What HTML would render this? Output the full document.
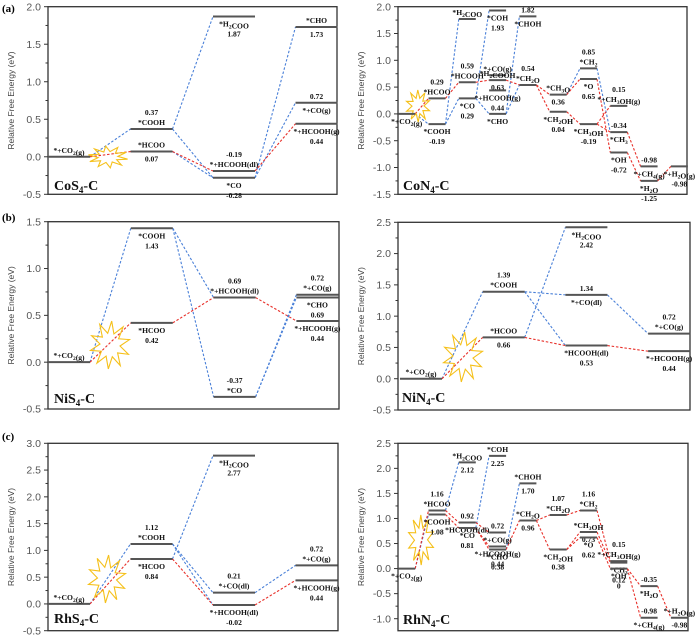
<!DOCTYPE html>
<html><head><meta charset="utf-8"><style>
html,body{margin:0;padding:0;background:#fff;}
svg{display:block;font-family:"Liberation Serif",serif;}
.tick{font-family:"Liberation Sans",sans-serif;font-size:10.5px;fill:#555;}
.lbl{font-size:7.6px;font-weight:bold;fill:#111;}
.cat{font-size:14px;font-weight:bold;fill:#111;}
.yt{font-family:"Liberation Sans",sans-serif;font-size:8.5px;fill:#444;}
</style></head><body>
<svg id="fig" width="700" height="638" viewBox="0 0 700 638"></svg>
<script>
// ---------- Panel (a) CoS4-C ----------
const aCols=[0,1,1,2,2,2,3,3,3];
const aEnergies=[0,0.37,0.07,1.87,-0.19,-0.28,1.73,0.72,0.44];
const aNames=["*+CO_2(g)","*COOH","*HCOO","*H_2COO","*+HCOOH(dl)","*CO","*CHO","*+CO(g)","*+HCOOH(g)"];
const aNamePos=["a","a","a","b","a","b","a","b","b"];
const aValPos=["n","a","b","b","a","b","b","a","b"];
const aBlue=[[0,1],[1,3],[1,5],[2,5],[5,6],[5,7]];
const aRed=[[0,2],[2,4],[4,8]];
const aTicks=[-0.5,0,0.5,1.0,1.5,2.0];
// ---------- Panel (b) NiS4-C ----------
const bCols=[0,1,1,2,2,3,3,3];
const bEnergies=[0,1.43,0.42,0.69,-0.37,0.72,0.69,0.44];
const bNames=["*+CO_2(g)","*COOH","*HCOO","*+HCOOH(dl)","*CO","*+CO(g)","*CHO","*+HCOOH(g)"];
const bNamePos=["a","b","b","a","a","a","b","b"];
const bValPos=["n","b","b","a","a","a","b","b"];
const bBlue=[[0,1],[1,3],[1,4],[4,5],[4,6]];
const bRed=[[0,2],[2,3],[3,7]];
const bTicks=[-0.5,0,0.5,1.0,1.5];
// ---------- Panel (c) RhS4-C ----------
const cCols=[0,1,1,2,2,2,3,3];
const cEnergies=[0,1.12,0.84,2.77,0.21,-0.02,0.72,0.44];
const cNames=["*+CO_2(g)","*COOH","*HCOO","*H_2COO","*+CO(dl)","*+HCOOH(dl)","*+CO(g)","*+HCOOH(g)"];
const cNamePos=["a","a","b","b","a","b","a","b"];
const cValPos=["n","a","b","b","a","b","a","b"];
const cBlue=[[0,1],[2,3],[1,4],[1,5],[4,6]];
const cRed=[[0,2],[2,5],[5,7]];
const cTicks=[-0.5,0,0.5,1.0,1.5,2.0,2.5,3.0];
// ---------- Panel (d) CoN4-C ----------
const dCols=[0,1,1,2,2,2,3,3,3,3,3,4,4,5,5,6,6,6,7,7,7,8,8,9];
const dEnergies=[0,-0.19,0.29,1.77,0.59,0.29,1.93,0.72,0.63,0.44,0,1.82,0.54,0.36,0.04,0.85,0.65,-0.19,0.15,-0.34,-0.72,-0.98,-1.25,-0.98];
const dNames=["*+CO_2(g)","*COOH","*HCOO","*H_2COO","*HCOOH","*CO","*COH","*+CO(g)","*H_2COOH","*+HCOOH(g)","*CHO","*CHOH","*CH_2O","*CH_3O","*CH_2OH","*CH_2","*O","*CH_3OH","*+CH_3OH(g)","*CH_3","*OH","*+CH_4(g)","*H_2O","*+H_2O(g)"];
const dNamePos=["b","b","a","a","a","b","b","a","a","b","b","b","a","a","b","a","b","b","a","b","b","b","b","b"];
const dValPos=["n","b","a","n","a","b","b","n","b","b","n","a","a","b","b","a","b","b","a","a","b","a","b","b"];
const dBlue=[[0,1],[1,3],[1,5],[5,6],[5,10],[10,11],[10,12],[13,15],[15,19]];
const dRed=[[0,2],[2,4],[4,8],[8,12],[12,13],[12,14],[13,16],[14,17],[16,20],[17,18],[17,19],[19,21],[20,22],[22,23]];
const dTicks=[-1.5,-1.0,-0.5,0,0.5,1.0,1.5,2.0];
// ---------- Panel (e) NiN4-C ----------
const eCols=[0,1,1,2,2,2,3,3];
const eEnergies=[0,1.39,0.66,2.42,1.34,0.53,0.72,0.44];
const eNames=["*+CO_2(g)","*COOH","*HCOO","*H_2COO","*+CO(dl)","*HCOOH(dl)","*+CO(g)","*+HCOOH(g)"];
const eNamePos=["a","a","a","b","b","b","a","b"];
const eValPos=["n","a","b","b","a","b","a","b"];
const eBlue=[[0,1],[2,3],[1,4],[1,5],[4,6]];
const eRed=[[0,2],[2,5],[5,7]];
const eTicks=[-0.5,0,0.5,1.0,1.5,2.0,2.5];
// ---------- Panel (f) RhN4-C ----------
const fCols=[0,1,1,2,2,2,3,3,3,3,4,4,5,5,6,6,6,7,7,7,8,8,9];
const fEnergies=[0,1.16,1.08,2.12,0.92,0.81,2.25,0.72,0.44,0.38,1.70,0.96,1.07,0.38,1.16,0.73,0.62,0.15,0.12,0,-0.35,-0.98,-0.98];
const fNames=["*+CO_2(g)","*HCOO","*COOH","*H_2COO","*HCOOH(dl)","*CO","*COH","*+CO(g)","*+HCOOH(g)","*CHO","*CHOH","*CH_2O","*CH_2O","*CH_2OH","*CH_2","*CH_3OH","*O","*+CH_3OH(g)","*CH_3","*OH","*H_2O","*+CH_4(g)","*+H_2O(g)"];
const fNamePos=["b","a","b","a","b","b","a","b","b","b","a","a","a","b","a","a","b","a","b","b","b","b","a"];
const fValPos=["n","a","b","b","a","b","b","a","b","b","b","b","a","b","a","b","b","a","b","b","a","a","b"];
const fBlue=[[0,2],[1,3],[5,6],[9,10]];
const fRed=[[0,1],[1,4],[2,5],[4,7],[5,9],[5,8],[9,11],[11,12],[11,13],[12,14],[13,15],[13,16],[14,17],[15,18],[16,19],[19,20],[19,21],[20,22]];
const fTicks=[-1.0,-0.5,0,0.5,1.0,1.5,2.0,2.5];

const NS="http://www.w3.org/2000/svg";
const svg=document.getElementById('fig');
function mk(tag,attrs,parent){const e=document.createElementNS(NS,tag);for(const k in attrs)e.setAttribute(k,attrs[k]);(parent||svg).appendChild(e);return e;}
function richText(el,s){
  const parts=s.split(/(_\d)/);
  parts.forEach(p=>{if(!p)return;const t=document.createElementNS(NS,'tspan');
    if(p[0]==='_'){t.textContent=p[1];t.setAttribute('font-size','5.5');t.setAttribute('dy','2');el.appendChild(t);
      const r=document.createElementNS(NS,'tspan');r.setAttribute('dy','-2');r.textContent='';el.appendChild(r);}
    else{t.textContent=p;el.appendChild(t);}});
}
function star(g,cx,cy,rx,ry,rot){
  let pts=[];for(let i=0;i<20;i++){const r=i%2?0.5:1;const a=rot+i*Math.PI/10;pts.push((cx+Math.cos(a)*rx*r).toFixed(1)+','+(cy+Math.sin(a)*ry*r).toFixed(1));}
  const p=mk('polygon',{points:pts.join(' '),fill:'none',stroke:'#f5c01a','stroke-width':1.1},g);
  
  
}
const panels=[
 {id:'a',cols:aCols,en:aEnergies,names:aNames,np:aNamePos,vp:aValPos,blue:aBlue,red:aRed,ticks:aTicks,x0:48,x1:337,yTop:6.7,yBot:194.3,vTop:2,vBot:-0.5,fb:-0.5,c0:69,sp:82.5,w:42,tag:'(a)',tagY:12,cat:['CoS','4','-C'],catX:54,catY:190,star:[108,157,20,11,0.2]},
 {id:'b',cols:bCols,en:bEnergies,names:bNames,np:bNamePos,vp:bValPos,blue:bBlue,red:bRed,ticks:bTicks,x0:48,x1:339,yTop:221.7,yBot:409,vTop:1.5,vBot:-0.5,fb:-0.5,c0:69,sp:82.8,w:42,tag:'(b)',tagY:221,cat:['NiS','4','-C'],catX:54,catY:403,star:[110,345,20,24,0.4]},
 {id:'c',cols:cCols,en:cEnergies,names:cNames,np:cNamePos,vp:cValPos,blue:cBlue,red:cRed,ticks:cTicks,x0:48,x1:338,yTop:443.3,yBot:630.7,vTop:3,vBot:-0.5,fb:-0.5,c0:69,sp:82.5,w:42,tag:'(c)',tagY:440,cat:['RhS','4','-C'],catX:54,catY:623,star:[107,579,19,24,0.4]},
 {id:'d',cols:dCols,en:dEnergies,names:dNames,np:dNamePos,vp:dValPos,blue:dBlue,red:dRed,ticks:dTicks,x0:398,x1:687,yTop:6.7,yBot:194.3,vTop:2,vBot:-1.5,fb:-1.5,c0:406.7,sp:30.3,w:17,tag:'',cat:['CoN','4','-C'],catX:403,catY:190,star:[418,106,12,16,0.3]},
 {id:'e',cols:eCols,en:eEnergies,names:eNames,np:eNamePos,vp:eValPos,blue:eBlue,red:eRed,ticks:eTicks,x0:398,x1:690,yTop:222.3,yBot:410,vTop:2.5,vBot:-0.5,fb:-0.5,c0:421,sp:82.7,w:42,tag:'',cat:['NiN','4','-C'],catX:402,catY:402,star:[463,357,20,25,0.4]},
 {id:'f',cols:fCols,en:fEnergies,names:fNames,np:fNamePos,vp:fValPos,blue:fBlue,red:fRed,ticks:fTicks,x0:398,x1:688,yTop:443.3,yBot:618.7,vTop:2.5,vBot:-1.0,fb:-1.24,c0:406.7,sp:30.3,w:17,tag:'',cat:['RhN','4','-C'],catX:403,catY:624,star:[421,540,13,25,0.3]}
];
panels.forEach(P=>{
  const g=mk('g',{});
  
  
  const y=v=>P.yBot+(v-P.vBot)*(P.yTop-P.yBot)/(P.vTop-P.vBot);
  const xl=c=>P.c0+c*P.sp-P.w/2, xr=c=>P.c0+c*P.sp+P.w/2;
  const fbY=y(P.fb);
  const fr=mk('rect',{x:P.x0,y:P.yTop,width:P.x1-P.x0,height:fbY-P.yTop,fill:'none',stroke:'#333','stroke-width':1.3},g);
  
  
  // ticks
  const step=0.5;
  for(let v=P.vBot;v<=P.vTop+1e-6;v+=step/2){
    const major=Math.abs((v-P.vBot)/step-Math.round((v-P.vBot)/step))<1e-6;
    mk('line',{x1:P.x0-(major?4:2.5),x2:P.x0,y1:y(v),y2:y(v),stroke:'#333','stroke-width':1},g);
  }
  P.ticks.forEach(t=>{const tx=mk('text',{x:P.x0-7,y:y(t)+3.6,'text-anchor':'end',class:'tick'},g);tx.textContent=t.toFixed(1);
    
    });
  const cy=(P.yTop+fbY)/2;
  const yt=mk('text',{x:0,y:0,class:'yt','text-anchor':'middle',transform:`translate(${P.x0-34},${cy}) rotate(-90)`},g);
  yt.textContent='Relative Free Energy (eV)';
  
  
  // connectors
  [[P.blue,'#4a80d8'],[P.red,'#e8302a']].forEach(([arr,col])=>{
    arr.forEach(([i,j])=>{const ln=mk('line',{x1:xr(P.cols[i]),y1:y(P.en[i]),x2:xl(P.cols[j]),y2:y(P.en[j]),stroke:col,'stroke-width':1.1,'stroke-dasharray':'2.5,1.8'},g);
      
      });
  });
  star(g,...P.star);
  // levels + labels
  P.en.forEach((e,i)=>{
    const c=P.cols[i];const ly=y(e);
    const lv=mk('line',{x1:xl(c),x2:xr(c),y1:ly,y2:ly,stroke:'#555','stroke-width':2},g);
    
    
    const cx=(xl(c)+xr(c))/2;
    const above=[],below=[];
    const vs=e===0?'0':e.toFixed(2);
    if(P.np[i]==='a')above.push(['n',P.names[i]]);else below.push(['n',P.names[i]]);
    if(P.vp[i]==='a')above.push(['v',vs]);else if(P.vp[i]==='b')below.push(['v',vs]);
    const put=(txt,yy,kind)=>{const t=mk('text',{x:cx,y:yy,'text-anchor':'middle',class:'lbl'},g);
      if(kind==='n')richText(t,txt);else t.textContent=txt;
      
      };
    above.forEach((a,k)=>put(a[1],ly-4-k*10,a[0]));
    below.forEach((b,k)=>put(b[1],ly+10+k*10,b[0]));
  });
  if(P.tag){const t=mk('text',{x:2,y:P.tagY,'font-size':'11','font-weight':'bold'},g);t.textContent=P.tag;
    
    }
  const ct=mk('text',{x:P.catX,y:P.catY,class:'cat'},g);
  
  
  const s1=document.createElementNS(NS,'tspan');s1.textContent=P.cat[0];ct.appendChild(s1);
  const s2=document.createElementNS(NS,'tspan');s2.textContent=P.cat[1];s2.setAttribute('font-size','9');s2.setAttribute('dy','3');ct.appendChild(s2);
  const s3=document.createElementNS(NS,'tspan');s3.textContent=P.cat[2];s3.setAttribute('dy','-3');ct.appendChild(s3);
});
</script>
</body></html>
